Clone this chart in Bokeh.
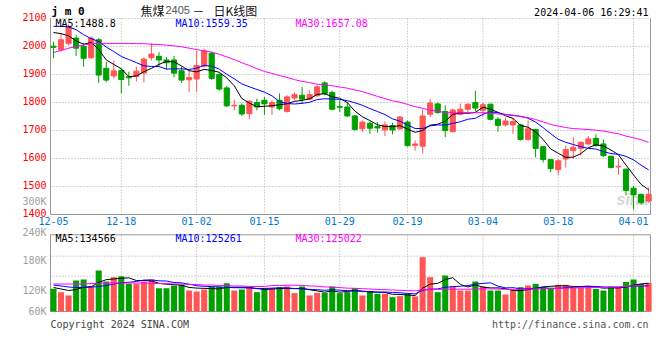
from bokeh.plotting import figure
from bokeh.models import Range1d, Label, ColumnDataSource
from bokeh.layouts import column
from bokeh.embed import file_html
from bokeh.resources import INLINE

# ---------------- data ----------------
dates = ["12-05","12-06","12-07","12-08","12-11","12-12","12-13","12-14","12-15","12-18",
         "12-19","12-20","12-21","12-22","12-25","12-26","12-27","12-28","12-29",
         "01-02","01-03","01-04","01-05","01-08","01-09","01-10","01-11","01-12","01-15",
         "01-16","01-17","01-18","01-19","01-22","01-23","01-24","01-25","01-26","01-29",
         "01-30","01-31","02-01","02-02","02-05","02-06","02-07","02-08","02-19","02-20",
         "02-21","02-22","02-23","02-26","02-27","02-28","02-29","03-01","03-04","03-05",
         "03-06","03-07","03-08","03-11","03-12","03-13","03-14","03-15","03-18","03-19",
         "03-20","03-21","03-22","03-25","03-26","03-27","03-28","03-29","04-01","04-02","04-03"]
tick_labels = ["12-05","12-18","01-02","01-15","01-29","02-19","03-04","03-18","04-01"]

opens  = [2001,1988,2010,2030,2000,1960,2024,1922,1895,1914,1892,1893,1905,1960,1965,1952,1952,1913,1881,1884,
          1930,1976,1900,1852,1788,1790,1760,1800,1808,1784,1808,1768,1816,1826,1812,1824,1870,1836,1786,1784,
          1752,1706,1726,1714,1702,1718,1706,1730,1647,1644,1758,1795,1768,1696,1758,1776,1800,1772,1794,1740,
          1720,1720,1720,1668,1704,1642,1596,1560,1598,1628,1636,1652,1672,1652,1608,1570,1562,1494,1472,1448]
highs  = [2017,2048,2078,2042,2012,2036,2030,1946,1950,1920,1910,1928,1960,2012,1980,1962,1966,1928,1915,1985,
          1992,1982,1905,1860,1810,1796,1810,1814,1820,1808,1832,1826,1836,1856,1844,1862,1876,1842,1808,1802,
          1756,1736,1732,1730,1732,1728,1752,1736,1664,1776,1812,1800,1790,1778,1796,1796,1842,1800,1796,1748,
          1746,1744,1724,1736,1706,1646,1598,1598,1646,1676,1660,1680,1686,1668,1610,1600,1564,1502,1474,1496]
lows   = [1958,1982,2004,1966,1928,1955,1870,1872,1886,1833,1860,1875,1872,1950,1930,1918,1890,1870,1838,1838,
          1925,1880,1842,1784,1772,1752,1740,1772,1756,1756,1772,1764,1808,1796,1808,1820,1826,1772,1766,1748,
          1700,1694,1688,1692,1680,1686,1702,1642,1628,1618,1748,1760,1676,1692,1754,1766,1768,1748,1736,1696,
          1714,1688,1664,1664,1604,1586,1552,1542,1568,1598,1610,1648,1642,1606,1564,1542,1468,1418,1436,1442]
closes = [1997,2024,2068,1994,1958,2030,1898,1880,1913,1882,1888,1912,1955,1973,1952,1942,1905,1880,1889,1932,
          1985,1886,1848,1788,1790,1759,1804,1784,1795,1800,1778,1820,1828,1812,1828,1856,1832,1776,1783,1752,
          1704,1730,1708,1709,1720,1702,1748,1646,1652,1752,1798,1764,1700,1773,1776,1794,1780,1792,1740,1718,
          1734,1732,1668,1706,1636,1596,1564,1592,1632,1640,1658,1670,1646,1610,1568,1572,1486,1470,1442,1472]
volumes = [123300,116700,110000,140000,142000,128700,160000,138000,146700,148700,
           133300,133300,138000,142000,124700,124700,130000,131300,120000,118000,
           122000,128000,128000,134700,120000,122000,126700,116700,124700,124700,
           126700,128000,114700,128000,110000,115300,115300,128000,114700,116700,
           124700,110000,118700,113300,113300,106700,108700,113300,108000,186700,
           146700,116700,150000,128000,120000,120000,138000,128000,120000,120000,
           112000,120000,126700,130000,133300,126700,125300,131300,131300,125300,
           126700,128000,123300,120000,128000,126000,137000,142000,133000,135000]

# moving-average values before enough closes exist
ma5_head  = [2050, 2046, 2038, 2020]
ma10_head = [2072, 2072, 2070, 2060, 2042, 2028, 2018, 1998, 1982]
ma30_head = [1978, 1986, 1994, 2000, 2005, 2010, 2011, 2011, 2011, 2011, 2011, 2010, 2010, 2008, 2007,
             2005, 2002, 1999, 1994, 1989, 1984, 1980, 1972, 1963, 1953, 1942, 1932, 1921, 1911]
vma5_head  = [126000, 123000, 120000, 122000]
vma10_head = [131000, 129000, 127000, 126000, 126000, 127000, 128000, 130000, 133000]
vma30_head = [133000, 133000, 133000, 133000, 133000, 134000, 134000, 135000, 135000, 135000,
              135000, 135000, 135000, 134000, 134000, 134000, 133000, 133000, 132000, 132000,
              131000, 131000, 130000, 130000, 129000, 129000, 128000, 128000, 128000]

price_ticks = [1400, 1500, 1600, 1700, 1800, 1900, 2000, 2100]
vol_label_values = [180000, 120000]
vol_label_texts = ["180K", "120K"]
vol_grid_values = [108600, 148600, 188600]

price_ma_texts = ["MA5:1488.8", "MA10:1559.35", "MA30:1657.08"]
vol_ma_texts = ["MA5:134566", "MA10:125261", "MA30:125022"]

# ---------------- layout / style constants ----------------
FONT = "DejaVu Sans Mono"
RED = "#ff5555"
GREEN = "#00a000"
GRID = "#a8a8a8"
BORDER = "#999999"
MA_COLORS = ["#000000", "#0000ff", "#ff00ff"]

W = 660
P_H, V_H = 226, 134
X_LO, X_HI = -0.4, 79.25          # data-area bounds in bar index units
PLOT_L, PLOT_R = 50, 650          # data area in pixels
XS = (PLOT_R - PLOT_L) / (X_HI - X_LO)
P_LO, P_HI = 1400, 2100
P_TOP, P_BOT = 18, 214            # pixel rows of 2100 / 1400
PS = (P_BOT - P_TOP) / (P_HI - P_LO)
V_BASE, V_TOP = 78000, 231400     # volume data area
V_PER_PX = 2000
V_BOT_PX = 311 - P_H              # row of V_BASE inside the volume canvas


def rolling(vals, n, head):
    out = list(head)
    for i in range(len(head), len(vals)):
        out.append(sum(vals[i - n + 1:i + 1]) / n)
    return out


xs = list(range(len(dates)))
colors = [RED if c >= o else GREEN for o, c in zip(opens, closes)]
src = ColumnDataSource(dict(
    x=xs, open=opens, high=highs, low=lows, close=closes,
    top=[max(o, c) for o, c in zip(opens, closes)],
    bottom=[min(o, c) for o, c in zip(opens, closes)],
    vol=volumes, color=colors,
    ma5=rolling(closes, 5, ma5_head), ma10=rolling(closes, 10, ma10_head), ma30=rolling(closes, 30, ma30_head),
    vma5=rolling(volumes, 5, vma5_head), vma10=rolling(volumes, 10, vma10_head), vma30=rolling(volumes, 30, vma30_head),
))
tick_idx = [dates.index(t) for t in tick_labels]

x_range = Range1d(X_LO - PLOT_L / XS, X_HI + (W - PLOT_R) / XS)


def frame_lines(fig, y_lo, y_hi, h_grid, top_dotted):
    fig.segment(x0=tick_idx[1:], x1=tick_idx[1:], y0=[y_lo] * (len(tick_idx) - 1),
                y1=[y_hi] * (len(tick_idx) - 1), line_color=GRID, line_dash="1 2", line_width=1)
    fig.segment(x0=[X_LO] * len(h_grid), x1=[X_HI] * len(h_grid), y0=h_grid, y1=h_grid,
                line_color=GRID, line_dash="1 2", line_width=1)
    fig.segment(x0=[X_LO, X_HI, X_LO], x1=[X_LO, X_HI, X_HI], y0=[y_lo, y_lo, y_lo], y1=[y_hi, y_hi, y_lo],
                line_color=BORDER, line_width=1)
    if not top_dotted:
        fig.segment(x0=[X_LO], x1=[X_HI], y0=[y_hi], y1=[y_hi], line_color=BORDER, line_width=1)


def label(fig, x, y, text, color, size="10px", font=FONT, align="left", baseline="middle",
          x_units="screen", y_units="screen", style="normal", **kw):
    fig.add_layout(Label(x=x, y=y, x_units=x_units, y_units=y_units, text=text, text_color=color,
                         text_font=font, text_font_size=size, text_font_style=style,
                         text_align=align, text_baseline=baseline, **kw))


# ---------------- price panel ----------------
p = figure(width=W, height=P_H, x_range=x_range,
           y_range=Range1d(P_LO - (P_H - P_BOT) / PS, P_HI + P_TOP / PS),
           x_axis_type=None, y_axis_type=None, output_backend="svg", toolbar_location=None,
           min_border=0)
p.outline_line_color = None
p.grid.visible = False

frame_lines(p, P_LO, P_HI, price_ticks[1:], top_dotted=True)

label(p, 632, P_H - 199, "sina", "#d6d6d6", size="16px", font="Liberation Sans", align="center",
      style="bold italic", level="underlay")

p.segment(x0="x", y0="low", x1="x", y1="high", color="color", line_width=1, source=src)
p.vbar(x="x", width=0.68, top="top", bottom="bottom", fill_color="color", line_color="color", source=src)
for key, col in zip(["ma5", "ma10", "ma30"], MA_COLORS):
    p.line("x", key, color=col, line_width=1, source=src)

# price axis labels
for t in price_ticks:
    label(p, 46, t, str(t), "#ff0000", align="right", y_units="data", y_offset=2)
# date axis labels
for i in tick_idx:
    label(p, i, P_H - 220.4, dates[i], "#0077cc", align="center", x_units="data")

for txt, xpos, col in zip(price_ma_texts, [55, 175, 295], MA_COLORS):
    label(p, xpos, P_H - 23.3, txt, col)

label(p, 51, P_H - 11, "j m 0", "#000000", size="11px", style="bold")
label(p, 140, P_H - 9.5, "焦煤", "#111111", size="12px", font="Noto Sans CJK SC")
label(p, 165, P_H - 9.5, "2405", "#555555", size="11px", font="Liberation Sans")
label(p, 192, P_H - 9.5, "－", "#111111", size="12px", font="Noto Sans CJK SC")
label(p, 213, P_H - 9.5, "日K线图", "#111111", size="12px", font="Noto Sans CJK SC")
label(p, 648, P_H - 11.7, "2024-04-06 16:29:41", "#000000", align="right")
label(p, 46, P_H - 200.7, "300K", "#a0a0a0", align="right")

# ---------------- volume panel ----------------
v = figure(width=W, height=V_H, x_range=x_range,
           y_range=Range1d(V_BASE - (V_H - V_BOT_PX) * V_PER_PX, V_BASE + V_BOT_PX * V_PER_PX),
           x_axis_type=None, y_axis_type=None, output_backend="svg", toolbar_location=None,
           min_border=0)
v.outline_line_color = None
v.grid.visible = False

frame_lines(v, V_BASE, V_TOP, vol_grid_values, top_dotted=False)

v.vbar(x="x", width=0.8, top="vol", bottom=V_BASE, fill_color="color", line_color=None, source=src)
for key, col in zip(["vma5", "vma10", "vma30"], MA_COLORS):
    v.line("x", key, color=col, line_width=1, source=src)

for txt, xpos, col in zip(vol_ma_texts, [55, 175, 295], MA_COLORS):
    label(v, xpos, V_H - (238.3 - P_H), txt, col)
label(v, 46, V_H - (232 - P_H), "240K", "#a0a0a0", align="right")
for val, txt in zip(vol_label_values, vol_label_texts):
    label(v, 46, val, txt, "#a0a0a0", align="right", y_units="data")
label(v, 46, V_BASE, "60K", "#a0a0a0", align="right", y_units="data")
label(v, 50, V_H - (324 - P_H), "Copyright 2024 SINA.COM", "#444444")
label(v, 648, V_H - (324 - P_H), "http://finance.sina.com.cn", "#555555", align="right")

layout = column(p, v, spacing=0)
open("out.html", "w").write(file_html(layout, INLINE))
